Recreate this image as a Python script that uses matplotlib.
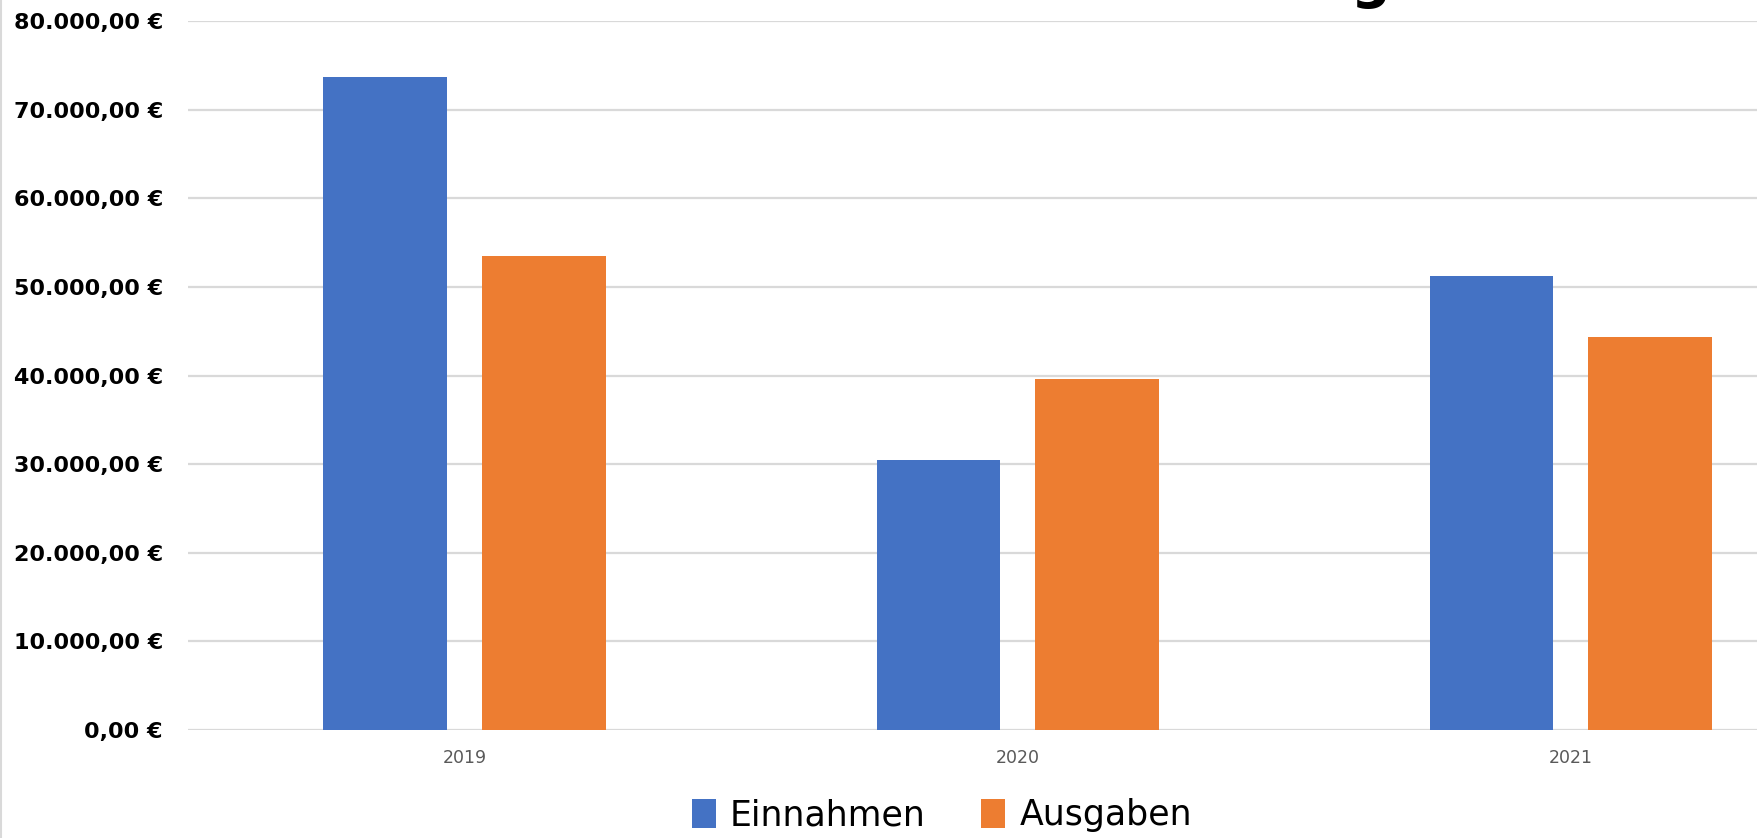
import numpy as np
import matplotlib
matplotlib.use("Agg")
import matplotlib.pyplot as plt
from matplotlib.lines import Line2D
from matplotlib.ticker import FuncFormatter

# data
years = ["2019", "2020", "2021"]
einnahmen = [73700, 30500, 51200]
ausgaben = [53500, 39600, 44400]
y_ticks = [0, 10000, 20000, 30000, 40000, 50000, 60000, 70000, 80000]

blue = "#4472C4"
orange = "#ED7D31"


# euro format like 80.000,00 €
def euro(v, pos=None):
    s = f"{v:,.2f}"
    s = s.replace(",", "X").replace(".", ",").replace("X", ".")
    return s + " €"


fig = plt.figure(figsize=(17.57, 8.38), dpi=100)
ax = fig.add_axes([0.107, 0.1289, 0.893, 0.846])

x = np.arange(len(years))
w = 0.224
off = 0.143
ax.bar(x - off, einnahmen, w, color=blue, label="Einnahmen", zorder=3)
ax.bar(x + off, ausgaben, w, color=orange, label="Ausgaben", zorder=3)

ax.set_xlim(-0.5, 2.337)
ax.set_ylim(0, 80000)
ax.set_yticks(y_ticks)
ax.yaxis.set_major_formatter(FuncFormatter(euro))
ax.set_xticks(x)
ax.set_xticklabels(years)

for s in ax.spines.values():
    s.set_visible(False)
ax.grid(axis="y", color="#d9d9d9", linewidth=1.6, zorder=0)
ax.set_axisbelow(True)
ax.tick_params(axis="y", length=0, pad=18, labelsize=16)
ax.tick_params(axis="x", length=0, pad=14, labelsize=12.5, labelcolor="#595959")
for lab in ax.get_yticklabels():
    lab.set_fontweight("bold")

# legend under the plot
fig.legend(loc="center", bbox_to_anchor=(0.536, 0.027), ncol=2, frameon=False,
           fontsize=25, handlelength=0.7, handleheight=0.9, handletextpad=0.4,
           columnspacing=1.6)

# the title is cut off at the top of the picture, only the tail of the "g" is left
fig.text(0.791, 1.003, "g", fontsize=40, fontweight="bold", ha="right", va="baseline")

# light border on the left
fig.add_artist(Line2D([0.0008, 0.0008], [0, 1], color="#d9d9d9", linewidth=1.5))

fig.savefig("out.png", dpi=100)
